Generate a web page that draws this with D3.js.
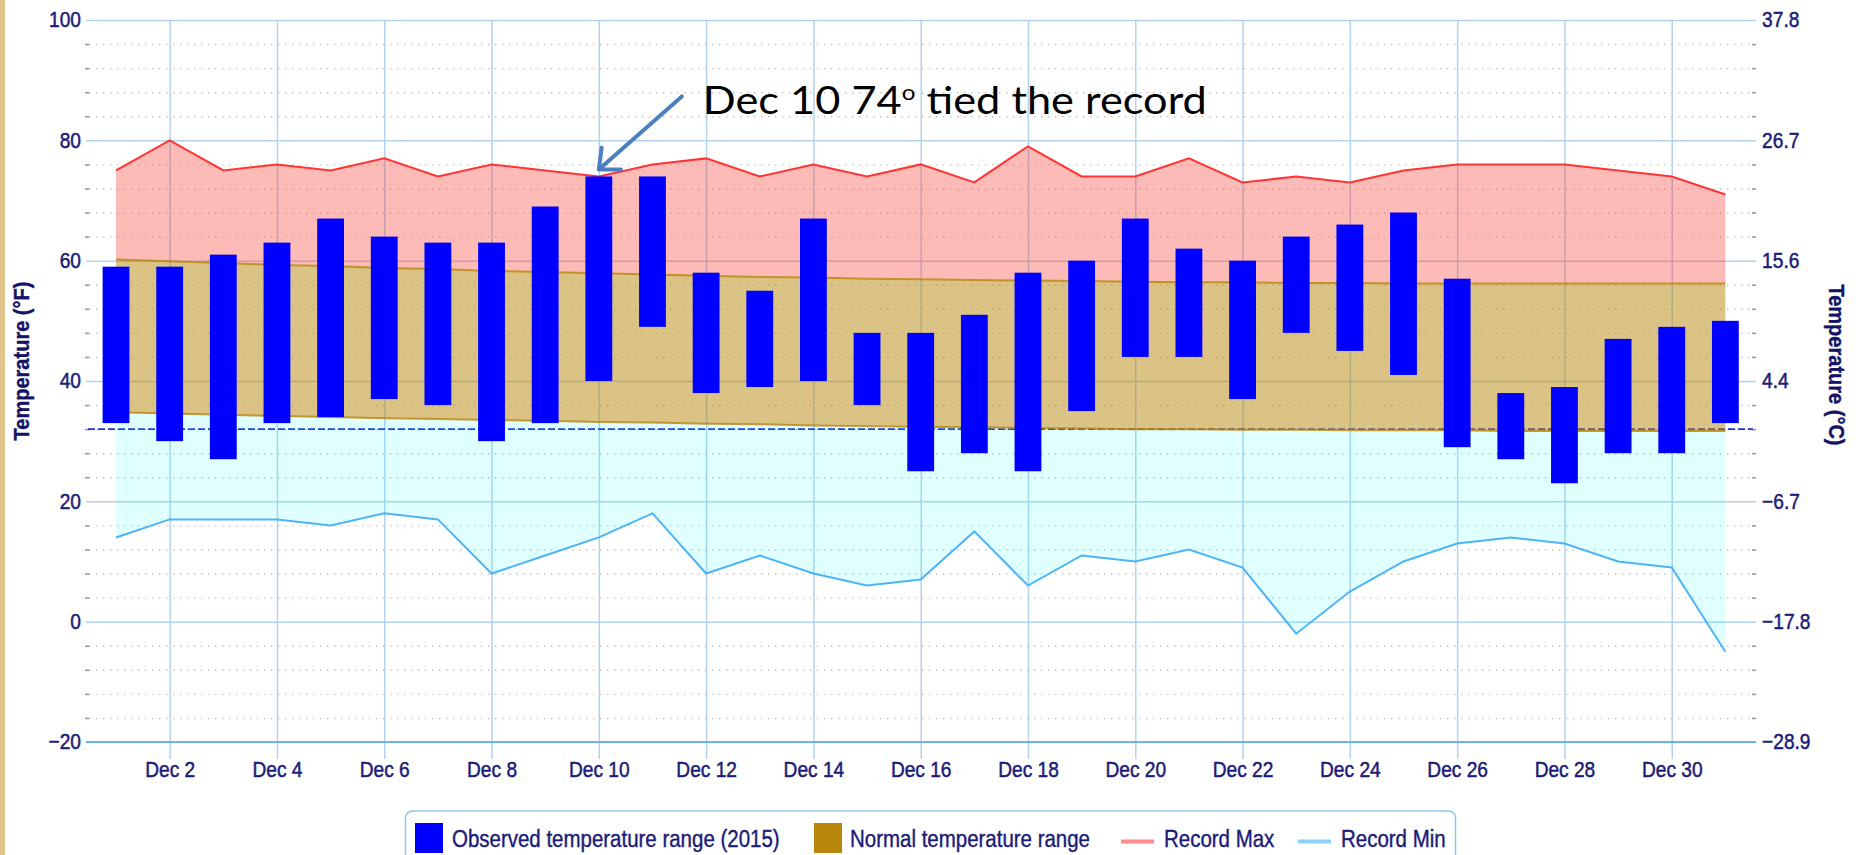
<!DOCTYPE html>
<html>
<head>
<meta charset="utf-8">
<script src="https://cdn.jsdelivr.net/npm/d3@7"></script>
<style>
    html, body { margin: 0; padding: 0; background: #fff; overflow: hidden; }
    svg { display: block; font-family: 'Liberation Sans', Arial, sans-serif; }
</style>
</head>
<body>
<svg id="chart" width="1859" height="855"></svg>
<script>
// December 2015, daily values in °F
const days = [1, 2, 3, 4, 5, 6, 7, 8, 9, 10, 11, 12, 13, 14, 15, 16, 17, 18, 19, 20, 21, 22, 23, 24, 25, 26, 27, 28, 29, 30, 31];
const obsHigh = [59, 59, 61, 63, 67, 64, 63, 63, 69, 74, 74, 58, 55, 67, 48, 48, 51, 58, 60, 67, 62, 60, 64, 66, 68, 57, 38, 39, 47, 49, 50];
const obsLow = [33, 30, 27, 33, 34, 37, 36, 30, 33, 40, 49, 38, 39, 40, 36, 25, 28, 25, 35, 44, 44, 37, 48, 45, 41, 29, 27, 23, 28, 28, 33];
const normalHigh = [60.2, 59.9, 59.6, 59.3, 59.1, 58.8, 58.6, 58.3, 58.1, 57.9, 57.7, 57.5, 57.3, 57.2, 57.0, 56.9, 56.8, 56.7, 56.6, 56.5, 56.4, 56.4, 56.3, 56.3, 56.2, 56.2, 56.2, 56.2, 56.2, 56.2, 56.2];
const normalLow = [34.8, 34.6, 34.4, 34.2, 34.0, 33.8, 33.7, 33.5, 33.4, 33.2, 33.1, 32.9, 32.8, 32.6, 32.5, 32.4, 32.3, 32.2, 32.1, 32.0, 32.0, 31.9, 31.9, 31.8, 31.8, 31.8, 31.7, 31.7, 31.7, 31.7, 31.7];
const recordMax = [75, 80, 75, 76, 75, 77, 74, 76, 75, 74, 76, 77, 74, 76, 74, 76, 73, 79, 74, 74, 77, 73, 74, 73, 75, 76, 76, 76, 75, 74, 71];
const recordMin = [14, 17, 17, 17, 16, 18, 17, 8, 11, 14, 18, 8, 11, 8, 6, 7, 15, 6, 11, 10, 12, 9, -2, 5, 10, 13, 14, 13, 10, 9, -5];

const fTicks = [-20, 0, 20, 40, 60, 80, 100];
const fTickLabels = ['\u221220', '0', '20', '40', '60', '80', '100'];
const cTickLabels = ['\u221228.9', '\u221217.8', '\u22126.7', '4.4', '15.6', '26.7', '37.8'];
const minorTicks = [-16, -12, -8, -4, 4, 8, 12, 16, 24, 28, 32, 36, 44, 48, 52, 56, 64, 68, 72, 76, 84, 88, 92, 96];
const dayTicks = [2, 4, 6, 8, 10, 12, 14, 16, 18, 20, 22, 24, 26, 28, 30];
const freezing = 32;

const legendLabels = ['Observed temperature range (2015)', 'Normal temperature range', 'Record Max', 'Record Min'];
const noteDay = 10;
const noteValue = 74;

const W = 1859, H = 855;
const pLeft = 89, pRight = 1755, pTop = 20, pBottom = 742;
const sx = 0.89;   // labels look horizontally squeezed in the original
const ink = '#1c1c78';

const svg = d3.select('#chart');

const x = d3.scaleLinear().domain([0.5, 31.5]).range([89.2, 1752.2]);
const y = d3.scaleLinear().domain([-20, 100]).range([pBottom, pTop]);

svg.append('rect').attr('width', W).attr('height', H).attr('fill', '#fff');
svg.append('rect').attr('width', 5).attr('height', H).attr('fill', '#e2c48a');

// minor dotted grid
svg.append('g')
    .attr('transform', `translate(${pLeft},0)`)
    .call(d3.axisLeft(y).tickValues(minorTicks).tickSize(-(pRight - pLeft - 3)).tickFormat(''))
    .call(g => g.select('.domain').remove())
    .selectAll('line')
    .attr('stroke', '#c2c2c2')
    .attr('stroke-width', 1.4)
    .attr('stroke-dasharray', '1.4 5.6')
;

// minor tick marks both sides
[pLeft, pRight + 1].forEach(tx => {
    svg.append('g')
        .attr('transform', `translate(${tx},0)`)
        .call(d3.axisLeft(y).tickValues(minorTicks).tickSize(4).tickFormat(''))
        .call(g => g.select('.domain').remove())
        .selectAll('line')
        .attr('stroke', '#9a9a9a')
        .attr('stroke-width', 1.6)
    ;
});

// major horizontal grid
svg.append('g')
    .attr('transform', `translate(${pRight + 1},0)`)
    .call(d3.axisLeft(y).tickValues(fTicks).tickSize(pRight + 1 - 86).tickFormat(''))
    .call(g => g.select('.domain').remove())
    .selectAll('line')
    .attr('stroke', '#b3d2ee')
    .attr('stroke-width', 1.5)
;

// vertical grid, down past the axis as ticks
svg.append('g')
    .attr('transform', `translate(0,759)`)
    .call(d3.axisBottom(x).tickValues(dayTicks).tickSize(-(759 - pTop)).tickFormat(''))
    .call(g => g.select('.domain').remove())
    .selectAll('line')
    .attr('stroke', '#b3d2ee')
    .attr('stroke-width', 1.5)
;

svg.append('line')
    .attr('x1', 86).attr('x2', pRight + 1)
    .attr('y1', y(-20)).attr('y2', y(-20))
    .attr('stroke', '#6db3e9')
    .attr('stroke-width', 2)
;

// freezing line
svg.append('line')
    .attr('x1', pLeft - 1).attr('x2', pRight - 2)
    .attr('y1', y(freezing)).attr('y2', y(freezing))
    .attr('stroke', '#1f2fe0')
    .attr('stroke-width', 1.6)
    .attr('stroke-dasharray', '7 3')
;

const idx = days.map((d, i) => i);
const xi = i => x(days[i]);

const band = (hi, lo) => d3.area().x(xi).y0(i => y(lo[i])).y1(i => y(hi[i]));
const curve = vals => d3.line().x(xi).y(i => y(vals[i]));

svg.append('path').attr('d', band(recordMax, normalHigh)(idx)).attr('fill', 'rgba(245,60,50,0.35)');
svg.append('path').attr('d', band(normalHigh, normalLow)(idx)).attr('fill', 'rgba(184,134,11,0.5)');
svg.append('path').attr('d', band(normalLow, recordMin)(idx)).attr('fill', 'rgba(0,255,255,0.12)');

[normalHigh, normalLow].forEach(v => {
    svg.append('path')
        .attr('d', curve(v)(idx))
        .attr('fill', 'none')
        .attr('stroke', 'rgba(184,134,11,0.8)')
        .attr('stroke-width', 2)
    ;
});

svg.append('path').attr('d', curve(recordMax)(idx)).attr('fill', 'none').attr('stroke', '#ff3535').attr('stroke-width', 2);
svg.append('path').attr('d', curve(recordMin)(idx)).attr('fill', 'none').attr('stroke', '#4fb4f5').attr('stroke-width', 2);

// observed range bars
const barW = x(1.25) - x(0.75);
svg.append('g')
    .selectAll('rect')
    .data(idx)
    .join('rect')
    .attr('x', i => xi(i) - barW / 2)
    .attr('width', barW)
    .attr('y', i => y(obsHigh[i]))
    .attr('height', i => y(obsLow[i]) - y(obsHigh[i]))
    .attr('fill', '#0000ff')
;

// axis labels
const styleTicks = (g, size) => {
    g.select('.domain').remove();
    g.selectAll('text')
        .attr('transform', `scale(${sx},1)`)
        .attr('fill', ink)
        .attr('stroke', ink)
        .attr('stroke-width', 0.5)
        .style('font-size', size + 'px')
        .style('font-family', "'Liberation Sans', Arial, sans-serif")
    ;
};

svg.append('g')
    .attr('transform', `translate(${pLeft},0)`)
    .call(d3.axisLeft(y).tickValues(fTicks).tickFormat((d, i) => fTickLabels[i]).tickSize(0).tickPadding(9))
    .call(g => styleTicks(g, 21.5))
;

svg.append('g')
    .attr('transform', `translate(${pRight},0)`)
    .call(d3.axisRight(y).tickValues(fTicks).tickFormat((d, i) => cTickLabels[i]).tickSize(0).tickPadding(8))
    .call(g => styleTicks(g, 21.5))
;

svg.append('g')
    .attr('transform', `translate(0,${pBottom})`)
    .call(d3.axisBottom(x).tickValues(dayTicks).tickFormat(d => 'Dec ' + d).tickSize(0).tickPadding(20))
    .call(g => styleTicks(g, 21.5))
;

const title = (tx, ty, rot, s) => {
    svg.append('text')
        .attr('transform', `translate(${tx},${ty}) rotate(${rot}) scale(${sx},1)`)
        .attr('text-anchor', 'middle')
        .attr('dominant-baseline', 'central')
        .attr('fill', '#141466')
        .attr('stroke', '#141466')
        .attr('stroke-width', 0.4)
        .style('font-size', '22.5px')
        .style('font-weight', 'bold')
        .text(s)
    ;
};
title(22, 361, -90, 'Temperature (\u00b0F)');
title(1836, 365, 90, 'Temperature (\u00b0C)');

// legend
const lg = svg.append('g');
lg.append('rect')
    .attr('x', 405.5).attr('y', 811)
    .attr('width', 1050).attr('height', 70)
    .attr('rx', 7)
    .attr('fill', '#fff')
    .attr('stroke', '#8ec5ec')
    .attr('stroke-width', 1.5)
;
const legendX = [415, 814, 1121, 1298];
const legendTextX = [452, 850, 1164, 1341];
const legendSym = ['rect', 'rect', 'line', 'line'];
const legendColor = ['#0000ff', '#b8860b', '#ff8c8c', '#8ecffc'];
legendLabels.forEach((s, i) => {
    if (legendSym[i] === 'rect') {
        lg.append('rect')
            .attr('x', legendX[i]).attr('y', 823)
            .attr('width', 28).attr('height', 30)
            .attr('fill', legendColor[i])
        ;
    } else {
        lg.append('line')
            .attr('x1', legendX[i]).attr('x2', legendX[i] + 33)
            .attr('y1', 841.5).attr('y2', 841.5)
            .attr('stroke', legendColor[i])
            .attr('stroke-width', 4)
        ;
    }
    lg.append('text')
        .attr('transform', `translate(${legendTextX[i]},847) scale(${sx},1)`)
        .attr('fill', ink)
        .attr('stroke', ink)
        .attr('stroke-width', 0.4)
        .style('font-size', '23px')
        .text(s)
    ;
});

// annotation
const tip = [x(noteDay), y(noteValue) - 7];
const tail = [tip[0] + 83, tip[1] - 73];
const len = Math.hypot(tail[0] - tip[0], tail[1] - tip[1]);
const ux = (tail[0] - tip[0]) / len, uy = (tail[1] - tip[1]) / len;
const arm = a => [tip[0] + 22 * (ux * Math.cos(a) - uy * Math.sin(a)), tip[1] + 22 * (ux * Math.sin(a) + uy * Math.cos(a))];
const a1 = arm(0.72), a2 = arm(-0.72);

svg.append('path')
    .attr('d', `M${tail[0]},${tail[1]} L${tip[0]},${tip[1]} M${a1[0]},${a1[1]} L${tip[0]},${tip[1]} L${a2[0]},${a2[1]}`)
    .attr('fill', 'none')
    .attr('stroke', '#4a7fc0')
    .attr('stroke-width', 4)
    .attr('stroke-linecap', 'round')
    .attr('stroke-linejoin', 'round')
;

const note = svg.append('text')
    .attr('x', tip[0] + 104)
    .attr('y', tip[1] - 55)
    .attr('fill', '#000')
    .attr('textLength', 504)
    .attr('lengthAdjust', 'spacingAndGlyphs')
    .style('font-family', "Lato, 'Open Sans', sans-serif")
    .style('font-size', '39.5px')
;
note.append('tspan').text('Dec 10 74');
note.append('tspan').attr('dy', -14).style('font-size', '22px').text('o');
note.append('tspan').attr('dy', 14).text(' tied the record');
</script>
</body>
</html>
